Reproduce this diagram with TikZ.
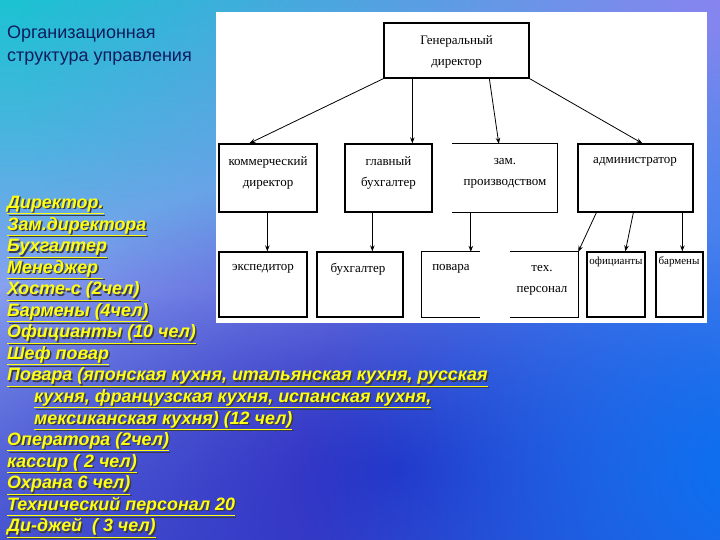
\documentclass[tikz,border=0pt]{standalone}
\usepackage{fontspec}
\setmainfont{Liberation Serif}
\newfontfamily\arialf{Liberation Sans}
\usetikzlibrary{arrows.meta,fadings,calc}
\definecolor{bgteal}{HTML}{1CC2D2}
\definecolor{bglav}{HTML}{88A0F0}
\definecolor{bgblue}{HTML}{4C5CD4}
\definecolor{bgdeep}{HTML}{2A2AC0}
\definecolor{bgbright}{HTML}{0A70F0}
\definecolor{bgtopright}{HTML}{8884F0}
\definecolor{titlecol}{HTML}{0C1C5C}
\definecolor{listyel}{HTML}{FFFF10}
\definecolor{shadowcol}{HTML}{3A3A48}
\tikzfading[name=softfade, inner color=transparent!0, outer color=transparent!100]
\newcommand\shline[1]{\makebox[0pt][l]{\hspace{1.4pt}\raisebox{-1.4pt}{\textcolor{shadowcol}{\underline{#1}}}}\underline{#1}}
\begin{document}
\begin{tikzpicture}[x=1pt,y=-1pt,
  chartbox/.style={draw=black,line width=1.3pt,minimum height=68pt,inner sep=0pt},
  lowbox/.style={draw=black,line width=1.3pt,minimum height=65pt,inner sep=0pt},
  openbox/.style={draw=none,minimum height=68pt,inner sep=0pt},
  openlow/.style={draw=none,minimum height=65pt,inner sep=0pt},
  edge/.style={line width=1.3pt},
  boxlabel/.style={font=\fontsize{13}{15}\selectfont,inner sep=0pt,align=center},
  arr/.style={line width=0.8pt,-{Stealth[length=6pt,width=4.5pt]}},
  listtext/.style={font=\arialf\bfseries\itshape\fontsize{17.9}{21.55}\selectfont,align=left,anchor=north west,inner sep=0pt},
  titletext/.style={font=\arialf\fontsize{18}{23}\selectfont,align=left,anchor=north west,inner sep=0pt,text=titlecol}
]
\useasboundingbox (0,0) rectangle (720,540);
% background
\begin{scope}
\clip (0,0) rectangle (720,540);
\shade[top color=bgteal,bottom color=bglav,middle color=bgteal!55!bglav] (0,0) rectangle (720,290);
\shade[top color=bglav,bottom color=bgblue] (0,290) rectangle (720,540);
\fill[bgtopright,path fading=softfade] (20,-700) rectangle (1420,700);
\fill[bgdeep,path fading=softfade] (-100,170) rectangle (900,770);
\fill[bgbright,path fading=softfade] (300,30) rectangle (1180,910);
\end{scope}
% white panel
\fill[white] (216,12) rectangle (707,323);
% boxes
\node[chartbox,minimum width=145pt,minimum height=55pt] (gd) at (456.5,50.5) {};
\node[chartbox,minimum width=98pt] (kd) at (268,178) {};
\node[chartbox,minimum width=87pt] (gb) at (388.5,178) {};
\node[openbox,minimum width=105pt] (zp) at (504.5,178) {};
\draw[edge] (zp.north west) -- (zp.north east) -- (zp.south east) -- (zp.south west);
\node[chartbox,minimum width=115pt] (ad) at (635.5,178) {};
\node[lowbox,minimum width=88pt] (ex) at (263,284.5) {};
\node[lowbox,minimum width=86pt] (bu) at (360,284.5) {};
\node[openlow,minimum width=58pt] (po) at (451,284.5) {};
\draw[edge] (po.north east) -- (po.north west) -- (po.south west) -- (po.south east);
\node[openlow,minimum width=68pt] (tp) at (544,284.5) {};
\draw[edge] (tp.north west) -- (tp.north east) -- (tp.south east) -- (tp.south west);
\node[lowbox,minimum width=58pt] (of) at (616,284.5) {};
\node[lowbox,minimum width=47pt] (ba) at (679.5,284.5) {};
% labels
\node[boxlabel] (gdt) at (456.5,51.5) {Генеральный\\[6pt]директор};
\node[boxlabel] (kdt) at (268,173) {коммерческий\\[6pt]директор};
\node[boxlabel] (gbt) at (388.5,173) {главный\\[6pt]бухгалтер};
\node[boxlabel] (zpt) at (505,173) {зам.\\[6pt]производством};
\node[boxlabel] (adt) at (635,162) {администратор};
\node[boxlabel] (ext) at (263,269) {экспедитор};
\node[boxlabel] (but) at (358,269) {бухгалтер};
\node[boxlabel] (pot) at (451,269) {повара};
\node[boxlabel] (tpt) at (542,280.5) {тех.\\[6pt]персонал};
\node[boxlabel,font=\fontsize{11}{13}\selectfont] (oft) at (616,262) {официанты};
\node[boxlabel,font=\fontsize{11}{13}\selectfont] (bat) at (679,262) {бармены};
% arrows
\draw[arr] (gd.south west) -- ([xshift=31pt]kd.north west);
\draw[arr] ([xshift=29pt]gd.south west) -- ([xshift=68pt]gb.north west);
\draw[arr] ([xshift=106pt]gd.south west) -- ([xshift=47pt]zp.north west);
\draw[arr] (gd.south east) -- ([xshift=65pt]ad.north west);
\draw[arr] ([xshift=49pt]kd.south west) -- ([xshift=49pt]kd.south west |- ex.north);
\draw[arr] ([xshift=28pt]gb.south west) -- ([xshift=28pt]gb.south west |- bu.north);
\draw[arr] ([xshift=19pt]zp.south west) -- ([xshift=19pt]zp.south west |- po.north);
\draw[arr] ([xshift=19pt]ad.south west) -- (tp.north east);
\draw[arr] ([xshift=56pt]ad.south west) -- ([xshift=39pt]of.north west);
\draw[arr] ([xshift=105pt]ad.south west) -- ([xshift=105pt]ad.south west |- ba.north);
% title
\node[titletext] (title) at (7,26) {Организационная\\структура управления};
% list
\node[listtext,text=listyel] (list) at (7,196) {%
\shline{Директор.}\\
\shline{Зам.директора}\\
\shline{Бухгалтер}\\
\shline{Менеджер }\\
\shline{Хосте-с (2чел)}\\
\shline{Бармены (4чел)}\\
\shline{Официанты (10 чел)}\\
\shline{Шеф повар}\\
\shline{Повара (японская кухня, итальянская кухня, русская}\\
\hspace*{27pt}\shline{кухня, французская кухня, испанская кухня,}\\
\hspace*{27pt}\shline{мексиканская кухня) (12 чел)}\\
\shline{Оператора (2чел)}\\
\shline{кассир ( 2 чел)}\\
\shline{Охрана 6 чел)}\\
\shline{Технический персонал 20}\\
\shline{Ди-джей\ \ ( 3 чел)}};
\end{tikzpicture}
\end{document}
